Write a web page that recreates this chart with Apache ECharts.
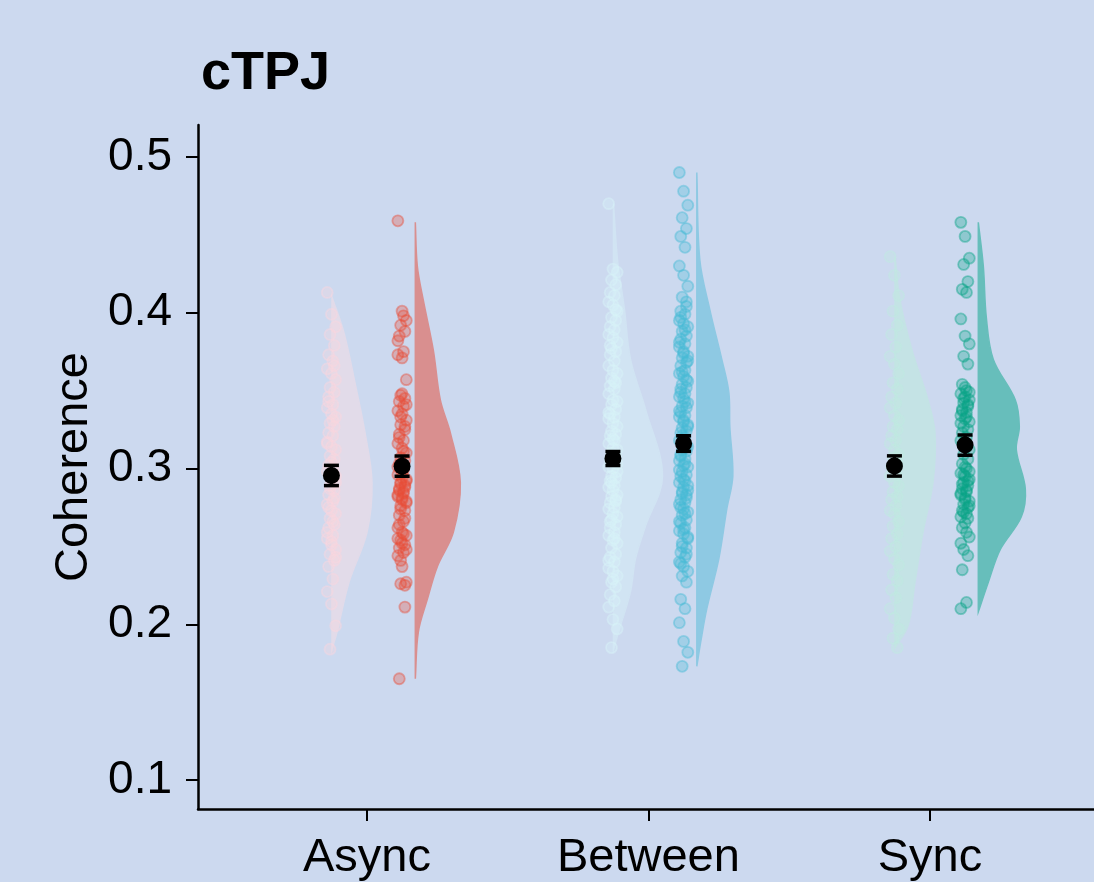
<!DOCTYPE html>
<html>
<head>
    <meta charset="utf-8" />
    <title>cTPJ Coherence</title>
    <script src="https://cdn.jsdelivr.net/npm/echarts@6.0.0/dist/echarts.min.js"></script>
    <style>
        html, body { margin: 0; padding: 0; background: #ccd9ef; }
    </style>
</head>
<body>
    <div id="main" style="width: 1094px;height:882px;"></div>
    <script>
        var categories = ['Async', 'Between', 'Sync'];
        var yTicks = [0.1, 0.2, 0.3, 0.4, 0.5];

        // coherence values per participant
        var asyncLight = [0.413, 0.399, 0.391, 0.386, 0.379, 0.373, 0.369, 0.364, 0.361, 0.357, 0.352, 0.349, 0.346, 0.341, 0.339, 0.335, 0.333, 0.329, 0.327, 0.323, 0.321, 0.317, 0.314, 0.312, 0.308, 0.306, 0.302, 0.300, 0.298, 0.293, 0.291, 0.289, 0.286, 0.283, 0.279, 0.277, 0.273, 0.271, 0.268, 0.264, 0.262, 0.257, 0.255, 0.251, 0.248, 0.245, 0.241, 0.237, 0.229, 0.221, 0.213, 0.199, 0.184,
            0.366, 0.343, 0.331, 0.316, 0.304, 0.295, 0.287, 0.281, 0.275, 0.266, 0.259, 0.253, 0.243];
        var asyncDark = [0.459, 0.401, 0.395, 0.392, 0.388, 0.385, 0.375, 0.373, 0.371, 0.357, 0.347, 0.345, 0.343, 0.340, 0.337, 0.335, 0.331, 0.328, 0.325, 0.322, 0.318, 0.316, 0.313, 0.310, 0.307, 0.305, 0.303, 0.299, 0.296, 0.294, 0.292, 0.290, 0.289, 0.287, 0.285, 0.283, 0.281, 0.279, 0.276, 0.273, 0.270, 0.266, 0.262, 0.259, 0.257, 0.254, 0.251, 0.249, 0.246, 0.244, 0.237, 0.227, 0.226, 0.211, 0.165,
            0.398, 0.382, 0.348, 0.341, 0.333, 0.327, 0.320, 0.311, 0.301, 0.297, 0.293, 0.291, 0.288, 0.286, 0.284, 0.282, 0.280, 0.278, 0.274, 0.268, 0.264, 0.258, 0.255, 0.252, 0.248, 0.241, 0.225];
        var betweenLight = [0.470, 0.428, 0.426, 0.421, 0.418, 0.413, 0.411, 0.407, 0.405, 0.401, 0.397, 0.395, 0.391, 0.389, 0.386, 0.384, 0.381, 0.377, 0.375, 0.373, 0.369, 0.366, 0.363, 0.361, 0.358, 0.355, 0.353, 0.351, 0.348, 0.344, 0.343, 0.341, 0.338, 0.335, 0.333, 0.332, 0.329, 0.327, 0.324, 0.322, 0.321, 0.318, 0.316, 0.313, 0.312, 0.310, 0.307, 0.306, 0.304, 0.301, 0.300, 0.298, 0.295, 0.294, 0.292, 0.289, 0.288, 0.286, 0.283, 0.282, 0.280, 0.278, 0.275, 0.274, 0.271, 0.269, 0.267, 0.264, 0.262, 0.259, 0.257, 0.254, 0.252, 0.249, 0.245, 0.243, 0.240, 0.236, 0.234, 0.231, 0.227, 0.224, 0.219, 0.215, 0.211, 0.203, 0.197, 0.185,
            0.402, 0.379, 0.356, 0.336, 0.319, 0.303, 0.291, 0.279, 0.266, 0.255, 0.241, 0.229];
        var betweenDark = [0.490, 0.478, 0.469, 0.461, 0.454, 0.449, 0.442, 0.430, 0.424, 0.417, 0.410, 0.404, 0.401, 0.399, 0.395, 0.393, 0.391, 0.388, 0.385, 0.383, 0.380, 0.378, 0.375, 0.372, 0.371, 0.368, 0.366, 0.363, 0.361, 0.359, 0.356, 0.354, 0.352, 0.351, 0.348, 0.346, 0.345, 0.342, 0.340, 0.339, 0.336, 0.334, 0.333, 0.330, 0.328, 0.326, 0.324, 0.323, 0.320, 0.318, 0.317, 0.314, 0.312, 0.311, 0.308, 0.306, 0.305, 0.302, 0.301, 0.298, 0.296, 0.295, 0.292, 0.291, 0.288, 0.286, 0.284, 0.283, 0.280, 0.278, 0.277, 0.274, 0.272, 0.270, 0.267, 0.265, 0.262, 0.260, 0.258, 0.255, 0.252, 0.249, 0.246, 0.243, 0.240, 0.237, 0.234, 0.231, 0.227, 0.216, 0.210, 0.201, 0.189, 0.182, 0.173,
            0.407, 0.397, 0.389, 0.381, 0.374, 0.369, 0.362, 0.357, 0.349, 0.343, 0.337, 0.331, 0.327, 0.321, 0.315, 0.309, 0.303, 0.299, 0.293, 0.289, 0.285, 0.281, 0.275, 0.271, 0.266, 0.261, 0.256, 0.250, 0.245, 0.239];
        var syncLight = [0.436, 0.424, 0.411, 0.401, 0.392, 0.386, 0.378, 0.372, 0.367, 0.361, 0.355, 0.351, 0.346, 0.342, 0.339, 0.334, 0.331, 0.327, 0.325, 0.321, 0.318, 0.316, 0.312, 0.309, 0.307, 0.303, 0.301, 0.297, 0.295, 0.291, 0.289, 0.285, 0.282, 0.280, 0.276, 0.273, 0.271, 0.266, 0.263, 0.258, 0.255, 0.250, 0.247, 0.242, 0.238, 0.232, 0.228, 0.222, 0.217, 0.210, 0.204, 0.197, 0.191, 0.185];
        var syncDark = [0.458, 0.449, 0.435, 0.431, 0.420, 0.415, 0.413, 0.396, 0.385, 0.380, 0.372, 0.367, 0.354, 0.350, 0.348, 0.346, 0.344, 0.342, 0.340, 0.338, 0.336, 0.334, 0.332, 0.330, 0.327, 0.325, 0.323, 0.320, 0.318, 0.315, 0.312, 0.309, 0.306, 0.303, 0.300, 0.297, 0.295, 0.293, 0.291, 0.289, 0.287, 0.285, 0.283, 0.281, 0.279, 0.277, 0.275, 0.273, 0.271, 0.269, 0.265, 0.256, 0.248, 0.244, 0.235, 0.214, 0.210,
            0.352, 0.349, 0.345, 0.341, 0.337, 0.333, 0.329, 0.301, 0.298, 0.296, 0.292, 0.290, 0.286, 0.284, 0.280, 0.276, 0.272, 0.268, 0.262, 0.259, 0.252];

        // density outlines: [coherence, density]
        var densAsyncLight = [[0.410, 0], [0.387, 12], [0.355, 23], [0.323, 33], [0.291, 40], [0.259, 35], [0.227, 17], [0.195, 5], [0.184, 0]];
        var densAsyncDark = [[0.458, 0], [0.430, 2], [0.408, 8], [0.376, 18], [0.344, 25], [0.323, 35], [0.291, 45], [0.259, 38], [0.237, 22], [0.216, 12], [0.195, 3], [0.165, 0]];
        var densBetweenLight = [[0.470, 0], [0.434, 4], [0.402, 11], [0.370, 17], [0.338, 32], [0.295, 49], [0.263, 32], [0.242, 22], [0.221, 17], [0.199, 7], [0.184, 0]];
        var densBetweenDark = [[0.490, 0], [0.434, 3], [0.402, 13], [0.370, 25], [0.349, 32], [0.327, 33], [0.295, 36], [0.274, 30], [0.242, 22], [0.210, 10], [0.189, 4], [0.173, 0]];
        var densSyncLight = [[0.436, 0], [0.408, 5], [0.376, 17], [0.344, 33], [0.323, 40], [0.291, 38], [0.259, 28], [0.227, 20], [0.199, 13], [0.185, 0]];
        var densSyncDark = [[0.458, 0], [0.430, 5], [0.397, 8], [0.370, 15], [0.344, 37], [0.327, 41], [0.312, 38], [0.287, 47], [0.269, 43], [0.248, 22], [0.227, 10], [0.208, 0]];

        var means = [[0.2955, 0.3015], [0.3064, 0.316], [0.3016, 0.315]];
        var sems = [[0.0065, 0.0065], [0.0045, 0.005], [0.0065, 0.0065]];

        var groups = [
            { cat: 0, side: 0, values: asyncLight, dens: densAsyncLight, point: [250, 214, 222], violin: '#e2dbe9' },
            { cat: 0, side: 1, values: asyncDark, dens: densAsyncDark, point: [232, 78, 56], violin: '#d98f8f' },
            { cat: 1, side: 0, values: betweenLight, dens: densBetweenLight, point: [216, 243, 249], violin: '#d1e4f3' },
            { cat: 1, side: 1, values: betweenDark, dens: densBetweenDark, point: [70, 187, 213], violin: '#8ec9e3' },
            { cat: 2, side: 0, values: syncLight, dens: densSyncLight, point: [192, 234, 225], violin: '#c4e3e5' },
            { cat: 2, side: 1, values: syncDark, dens: densSyncDark, point: [8, 164, 134], violin: '#67bebb' }
        ];

        var pointOffset = [-0.126, 0.125];
        var violinOffset = [-0.124, 0.172];
        var densScale = 1 / 281.5;

        var myChart = echarts.init(document.getElementById('main'));

        function rgba(c, a) {
            return 'rgba(' + c.join(',') + ',' + a + ')';
        }

        var series = [];

        series.push({
            type: 'custom',
            z: 1,
            silent: true,
            data: groups.map(function (g) { return [g.cat + violinOffset[g.side]]; }),
            renderItem: function (params, api) {
                var g = groups[params.dataIndex];
                var x0 = api.value(0);
                var d = g.dens;
                var pts = [api.coord([x0, d[0][0]])];
                d.forEach(function (p) {
                    pts.push(api.coord([x0 + p[1] * densScale, p[0]]));
                });
                pts.push(api.coord([x0, d[d.length - 1][0]]));
                return {
                    type: 'polygon',
                    shape: { points: pts, smooth: 0.35 },
                    style: { fill: g.violin, stroke: g.violin, lineWidth: 1.5 }
                };
            }
        });

        groups.forEach(function (g) {
            var x = g.cat + pointOffset[g.side];
            series.push({
                type: 'scatter',
                z: 2,
                silent: true,
                symbolSize: 11,
                itemStyle: {
                    color: rgba(g.point, g.side ? 0.38 : 0.4),
                    borderColor: rgba(g.point, g.side ? 0.55 : 0.55),
                    borderWidth: 1.8
                },
                data: g.values.map(function (v, i) {
                    return [x + ((i * 3) % 7 - 3) * 0.005, v];
                })
            });
        });

        var meanData = [];
        groups.forEach(function (g) {
            meanData.push([g.cat + pointOffset[g.side], means[g.cat][g.side], sems[g.cat][g.side]]);
        });

        series.push({
            type: 'custom',
            z: 5,
            silent: true,
            data: meanData,
            renderItem: function (params, api) {
                var x = api.value(0), m = api.value(1), s = api.value(2);
                var top = api.coord([x, m + s]);
                var bot = api.coord([x, m - s]);
                var c = api.coord([x, m]);
                var style = { stroke: '#000', lineWidth: 3.5 };
                return {
                    type: 'group',
                    children: [
                        { type: 'line', shape: { x1: top[0], y1: top[1], x2: bot[0], y2: bot[1] }, style: style },
                        { type: 'line', shape: { x1: top[0] - 7.5, y1: top[1], x2: top[0] + 7.5, y2: top[1] }, style: style },
                        { type: 'line', shape: { x1: bot[0] - 7.5, y1: bot[1], x2: bot[0] + 7.5, y2: bot[1] }, style: style },
                        { type: 'circle', shape: { cx: c[0], cy: c[1], r: 8.5 }, style: { fill: '#000' } }
                    ]
                };
            }
        });

        var labelFont = 'Liberation Sans';

        myChart.setOption({
            animation: false,
            backgroundColor: '#ccd9ef',
            title: {
                text: 'cTPJ',
                left: 196,
                top: 42,
                textStyle: { fontFamily: labelFont, fontSize: 54, fontWeight: 'bold', color: '#000' }
            },
            grid: { left: 198, right: 0, top: 125, bottom: 72 },
            xAxis: {
                type: 'value',
                min: -0.6,
                max: 2.583,
                splitLine: { show: false },
                axisLine: { show: true, onZero: false, lineStyle: { color: '#000', width: 2.5 } },
                axisTick: { show: true, customValues: [0, 1, 2], length: 12, lineStyle: { color: '#000', width: 2 } },
                axisLabel: {
                    customValues: [0, 1, 2],
                    margin: 26,
                    fontFamily: labelFont,
                    fontSize: 47,
                    color: '#000',
                    formatter: function (v) { return categories[Math.round(v)]; }
                }
            },
            yAxis: {
                type: 'value',
                min: 0.0814,
                max: 0.5205,
                name: 'Coherence',
                nameLocation: 'middle',
                nameGap: 100,
                nameTextStyle: { fontFamily: labelFont, fontSize: 47, color: '#000' },
                splitLine: { show: false },
                axisLine: { show: true, onZero: false, lineStyle: { color: '#000', width: 2.5 } },
                axisTick: { show: true, customValues: yTicks, length: 12, lineStyle: { color: '#000', width: 2 } },
                axisLabel: {
                    customValues: yTicks,
                    margin: 26,
                    fontFamily: labelFont,
                    fontSize: 46,
                    color: '#000',
                    formatter: function (v) { return v.toFixed(1); }
                }
            },
            series: series
        });
    </script>
</body>
</html>
